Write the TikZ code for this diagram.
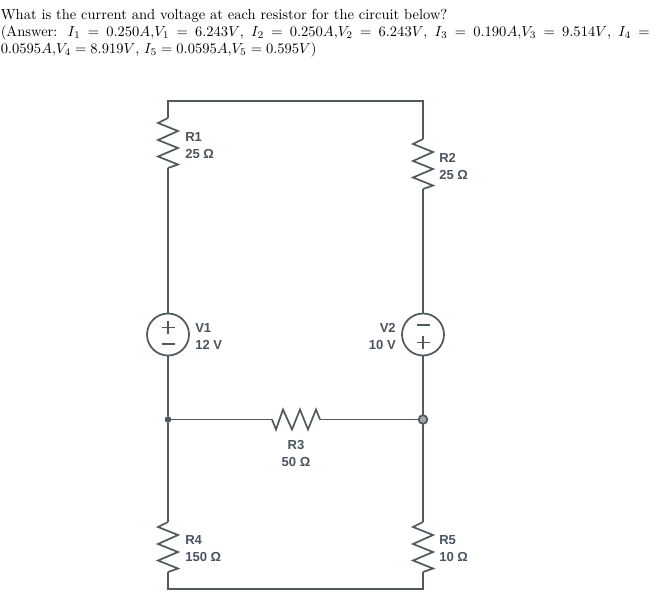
\documentclass[tikz,border=0pt]{standalone}
\usepackage{fontspec}
\newfontfamily\labfont{Liberation Sans}
\definecolor{wire}{HTML}{4F5A60}
\definecolor{lab}{HTML}{4A5560}
\tikzset{
  wireline/.style={draw=wire,line width=1.3pt,line join=miter},
  lblbase/.style={font=\labfont\bfseries\fontsize{9.8}{12}\selectfont,text=lab,inner sep=0pt},
  lbl/.style={lblbase,anchor=base west},
  lblr/.style={lblbase,anchor=base east},
  lblc/.style={lblbase,anchor=base},
  srcc/.style={circle,draw=wire,line width=1.3pt,minimum size=31.5pt,inner sep=0pt,outer sep=0pt,fill=white},
  txt/.style={inner sep=0pt,anchor=base west,text=black,scale=1.09},
  vzig/.pic={\draw[wireline] (0,0) -- (-10,5) -- (10,13) -- (-10,22) -- (10,30) -- (-10,38.5) -- (10,46.5) -- (0,50);}
}
\begin{document}
\begin{tikzpicture}[x=0.75pt,y=-0.75pt]
\useasboundingbox (0,0) rectangle (652,607);
\node[txt] (t1) at (0.5,19) {What is the current and voltage at each resistor for the circuit below?};
\node[txt] (t2) at (0.5,36) {\hbox to 446.5pt{(Answer: $I_1 = 0.250A{,}V_1 = 6.243V$, $I_2 = 0.250A{,}V_2 = 6.243V$, $I_3 = 0.190A{,}V_3 = 9.514V$, $I_4 =$}};
\node[txt] (t3) at (0.5,53) {$0.0595A{,}V_4 = 8.919V$, $I_5 = 0.0595A{,}V_5 = 0.595V)$};

\coordinate (tl) at (168,101);
\coordinate (tr) at (423,101);
\coordinate (bl) at (168,589);
\coordinate (br) at (423,589);
\coordinate (r1a) at (168,118);
\coordinate (r1b) at (168,168);
\coordinate (r2a) at (423,139);
\coordinate (r2b) at (423,189);
\coordinate (r4a) at (168,522);
\coordinate (r4b) at (168,572);
\coordinate (r5a) at (423,522);
\coordinate (r5b) at (423,572);
\coordinate (r3a) at (272,419.5);
\coordinate (r3b) at (320,419.5);
\node[srcc] (V1) at (168,334.5) {};
\node[srcc] (V2) at (423,334.5) {};
\node[circle,fill=wire,inner sep=0pt,outer sep=0pt,minimum size=5pt] (J1) at (168,419.5) {};
\node[circle,fill=gray!70,draw=wire,line width=1.3pt,inner sep=0pt,outer sep=0pt,minimum size=6.5pt] (J2) at (423,419.5) {};

\draw[wireline] (r1a) -- (tl) -- (tr) -- (r2a);
\draw[wireline] (r1b) -- (V1.north);
\draw[wireline] (r2b) -- (V2.north);
\draw[wireline] (V1.south) -- (J1.north);
\draw[wireline] (J1.south) -- (r4a);
\draw[wireline] (V2.south) -- (J2.north);
\draw[wireline] (J2.south) -- (r5a);
\draw[wireline] (r4b) -- (bl) -- (br) -- (r5b);
\draw[wireline] (J1.east) -- (r3a);
\draw[wireline] (r3b) -- (J2.west);
\draw[wireline] (r3a) -- ++(4,10) -- ++(7,-20) -- ++(9,20) -- ++(8,-20) -- ++(8,20) -- ++(8,-20) -- (r3b);
\pic at (r1a) {vzig};
\pic at (r2a) {vzig};
\pic at (r4a) {vzig};
\pic at (r5a) {vzig};

\draw[wireline] (161.5,327.5) -- (174.5,327.5) (168,321) -- (168,334);
\draw[wireline] (161.5,344) -- (174.5,344);
\draw[wireline] (416.5,325) -- (429.5,325);
\draw[wireline] (416.5,342.5) -- (429.5,342.5) (423,336) -- (423,349);

\node[lbl] (lR1) at (185,141) {R1};
\node[lbl] (vR1) at (185,158) {25 Ω};
\node[lbl] (lR2) at (439,162) {R2};
\node[lbl] (vR2) at (439,179) {25 Ω};
\node[lbl] (lV1) at (195,332) {V1};
\node[lbl] (vV1) at (195,349) {12 V};
\node[lblr] (lV2) at (396,332) {V2};
\node[lblr] (vV2) at (396,349) {10 V};
\node[lblc] (lR3) at (296,449) {R3};
\node[lblc] (vR3) at (296,466) {50 Ω};
\node[lbl] (lR4) at (185,544) {R4};
\node[lbl] (vR4) at (185,561) {150 Ω};
\node[lbl] (lR5) at (439,544) {R5};
\node[lbl] (vR5) at (439,561) {10 Ω};
\end{tikzpicture}
\end{document}
